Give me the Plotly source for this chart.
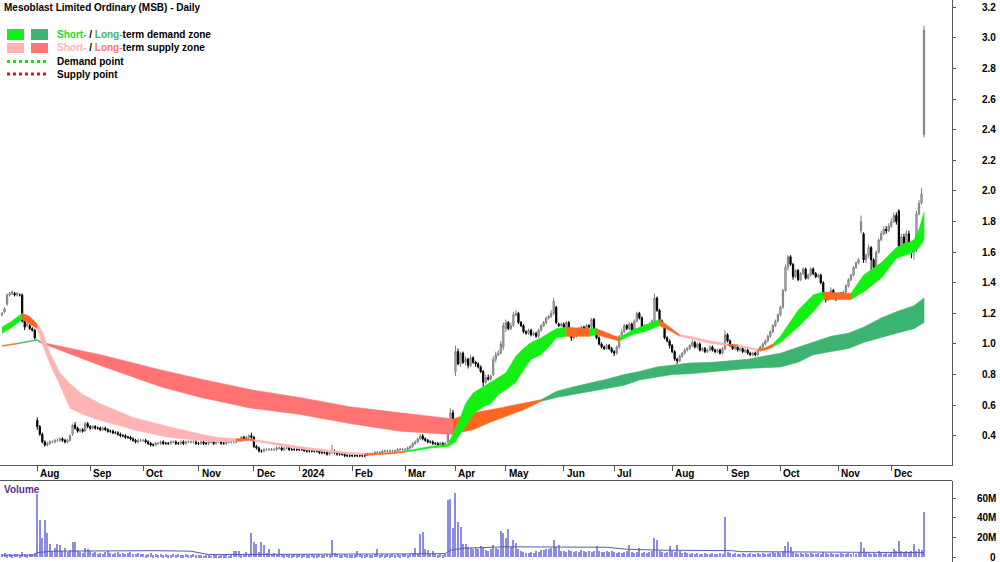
import plotly.graph_objects as go

# ---------------- data ----------------
MONTH_NAMES = ["Jul", "Aug", "Sep", "Oct", "Nov", "Dec", "2024", "Feb", "Mar", "Apr",
               "May", "Jun", "Jul", "Aug", "Sep", "Oct", "Nov", "Dec"]
MONTH_DAYS = [14, 21, 21, 22, 22, 18, 21, 21, 20, 20, 23, 20, 23, 22, 21, 23, 21, 14]

OPEN = [
    1.19, 1.21, 1.26, 1.32, 1.33, 1.33, 1.32, 1.32, 1.32, 1.16, 1.12, 1.12, 1.10, 1.09,
    0.50, 0.46, 0.41, 0.36, 0.34, 0.35, 0.36, 0.36, 0.37, 0.37, 0.38, 0.37, 0.36, 0.37, 0.41, 0.47, 0.45, 0.43, 0.44, 0.43, 0.48,
    0.46, 0.45, 0.46, 0.45, 0.45, 0.44, 0.45, 0.44, 0.43, 0.43, 0.42, 0.42, 0.41, 0.40, 0.40, 0.39, 0.39, 0.38, 0.37, 0.36, 0.37,
    0.37, 0.37, 0.36, 0.35, 0.34, 0.34, 0.35, 0.35, 0.36, 0.35, 0.35, 0.35, 0.36, 0.36, 0.35, 0.35, 0.36, 0.35, 0.36, 0.36, 0.36, 0.36,
    0.35, 0.35, 0.36, 0.35, 0.35, 0.36, 0.36, 0.35, 0.36, 0.36, 0.35, 0.35, 0.36, 0.36, 0.36, 0.36, 0.37, 0.37, 0.39, 0.38, 0.39, 0.40,
    0.39, 0.33, 0.32, 0.30, 0.30, 0.31, 0.31, 0.31, 0.31, 0.31, 0.32, 0.32, 0.31, 0.32, 0.32, 0.31, 0.31, 0.31,
    0.31, 0.31, 0.31, 0.30, 0.30, 0.30, 0.30, 0.30, 0.30, 0.29, 0.29, 0.29, 0.28, 0.29, 0.30, 0.29, 0.28, 0.28, 0.28, 0.27, 0.27,
    0.27, 0.27, 0.27, 0.27, 0.27, 0.27, 0.27, 0.28, 0.28, 0.28, 0.29, 0.29, 0.29, 0.30, 0.30, 0.30, 0.30, 0.30, 0.30, 0.31, 0.31,
    0.31, 0.31, 0.32, 0.33, 0.35, 0.36, 0.38, 0.40, 0.38, 0.37, 0.36, 0.36, 0.35, 0.35, 0.34, 0.35, 0.34, 0.36, 0.48, 0.55,
    0.82, 0.95, 0.87, 0.94, 0.88, 0.90, 0.86, 0.91, 0.88, 0.87, 0.85, 0.82, 0.75, 0.78, 0.77, 0.80, 0.90, 0.93, 0.94, 0.98,
    1.10, 1.14, 1.10, 1.12, 1.19, 1.20, 1.14, 1.12, 1.08, 1.07, 1.09, 1.06, 1.07, 1.05, 1.09, 1.12, 1.14, 1.17, 1.18, 1.20, 1.24, 1.13, 1.12,
    1.13, 1.11, 1.14, 1.06, 1.04, 1.05, 1.08, 1.10, 1.11, 1.09, 1.12, 1.11, 1.16, 1.09, 1.04, 1.00, 0.98, 0.97, 0.99, 0.97,
    0.95, 0.94, 0.98, 1.05, 1.08, 1.12, 1.10, 1.13, 1.09, 1.15, 1.20, 1.17, 1.11, 1.12, 1.10, 1.13, 1.15, 1.30, 1.22, 1.15, 1.12, 1.04, 1.02,
    0.99, 0.95, 0.90, 0.89, 0.92, 0.94, 0.96, 0.97, 0.99, 1.01, 0.98, 1.00, 0.96, 0.97, 0.95, 0.96, 0.98, 0.96, 0.95, 0.96, 0.94, 0.97,
    1.06, 1.02, 0.99, 0.97, 0.98, 0.96, 0.97, 0.95, 0.96, 0.94, 0.93, 0.94, 0.93, 0.96, 0.98, 1.00, 1.02, 1.05, 1.08, 1.12, 1.15,
    1.19, 1.24, 1.35, 1.50, 1.57, 1.52, 1.44, 1.48, 1.42, 1.46, 1.49, 1.43, 1.45, 1.49, 1.46, 1.44, 1.45, 1.40, 1.32, 1.29, 1.33, 1.35, 1.31,
    1.30, 1.33, 1.31, 1.34, 1.38, 1.42, 1.45, 1.50, 1.53, 1.74, 1.72, 1.55, 1.58, 1.63, 1.55, 1.50, 1.60, 1.68, 1.72, 1.75, 1.74,
    1.77, 1.80, 1.84, 1.87, 1.64, 1.70, 1.66, 1.72, 1.64, 1.60, 1.62, 1.85, 1.92, 2.37,
]
CLOSE = [
    1.20, 1.23, 1.32, 1.33, 1.34, 1.32, 1.33, 1.32, 1.15, 1.11, 1.13, 1.10, 1.09, 1.04,
    0.46, 0.41, 0.36, 0.34, 0.35, 0.36, 0.36, 0.37, 0.37, 0.38, 0.37, 0.36, 0.37, 0.40, 0.47, 0.45, 0.43, 0.44, 0.43, 0.48, 0.46,
    0.45, 0.46, 0.45, 0.45, 0.44, 0.45, 0.44, 0.43, 0.43, 0.42, 0.42, 0.41, 0.40, 0.40, 0.39, 0.39, 0.38, 0.37, 0.36, 0.37, 0.37,
    0.37, 0.36, 0.35, 0.34, 0.34, 0.35, 0.35, 0.36, 0.35, 0.35, 0.35, 0.36, 0.36, 0.35, 0.35, 0.36, 0.35, 0.36, 0.36, 0.36, 0.36, 0.35,
    0.35, 0.36, 0.35, 0.35, 0.36, 0.36, 0.35, 0.36, 0.36, 0.35, 0.35, 0.36, 0.36, 0.36, 0.36, 0.37, 0.37, 0.39, 0.38, 0.39, 0.40, 0.39,
    0.33, 0.32, 0.30, 0.30, 0.31, 0.31, 0.31, 0.31, 0.31, 0.32, 0.32, 0.31, 0.32, 0.32, 0.31, 0.31, 0.31, 0.31,
    0.31, 0.31, 0.30, 0.30, 0.30, 0.30, 0.30, 0.30, 0.29, 0.29, 0.29, 0.28, 0.29, 0.30, 0.29, 0.28, 0.28, 0.28, 0.27, 0.27, 0.27,
    0.27, 0.27, 0.27, 0.27, 0.27, 0.27, 0.28, 0.28, 0.28, 0.29, 0.29, 0.29, 0.30, 0.30, 0.30, 0.30, 0.30, 0.30, 0.31, 0.31, 0.31,
    0.31, 0.32, 0.33, 0.35, 0.36, 0.38, 0.40, 0.38, 0.37, 0.36, 0.36, 0.35, 0.35, 0.34, 0.35, 0.34, 0.35, 0.47, 0.55, 0.50,
    0.95, 0.87, 0.94, 0.88, 0.90, 0.86, 0.91, 0.88, 0.87, 0.85, 0.82, 0.75, 0.78, 0.77, 0.79, 0.90, 0.93, 0.94, 1.00, 1.12,
    1.14, 1.10, 1.12, 1.19, 1.20, 1.14, 1.12, 1.08, 1.07, 1.09, 1.06, 1.07, 1.05, 1.09, 1.12, 1.14, 1.17, 1.18, 1.20, 1.28, 1.14, 1.12, 1.13,
    1.11, 1.14, 1.06, 1.04, 1.05, 1.08, 1.10, 1.11, 1.09, 1.12, 1.11, 1.16, 1.09, 1.04, 1.00, 0.98, 0.97, 0.99, 0.97, 0.95,
    0.94, 0.98, 1.05, 1.08, 1.12, 1.10, 1.13, 1.09, 1.15, 1.20, 1.17, 1.11, 1.12, 1.10, 1.13, 1.15, 1.30, 1.22, 1.15, 1.12, 1.04, 1.02, 0.99,
    0.95, 0.90, 0.89, 0.92, 0.94, 0.96, 0.97, 0.99, 1.01, 0.98, 1.00, 0.96, 0.97, 0.95, 0.96, 0.98, 0.96, 0.95, 0.96, 0.94, 0.97, 1.06,
    1.02, 0.99, 0.97, 0.98, 0.96, 0.97, 0.95, 0.96, 0.94, 0.93, 0.94, 0.93, 0.96, 0.98, 1.00, 1.02, 1.05, 1.08, 1.12, 1.15, 1.19,
    1.24, 1.35, 1.50, 1.57, 1.52, 1.44, 1.48, 1.42, 1.46, 1.49, 1.43, 1.45, 1.49, 1.46, 1.44, 1.45, 1.40, 1.32, 1.29, 1.33, 1.35, 1.31, 1.30,
    1.33, 1.31, 1.34, 1.38, 1.42, 1.45, 1.50, 1.53, 1.55, 1.80, 1.55, 1.58, 1.63, 1.55, 1.50, 1.60, 1.68, 1.72, 1.75, 1.74, 1.77,
    1.80, 1.84, 1.80, 1.64, 1.70, 1.66, 1.72, 1.64, 1.60, 1.62, 1.85, 1.92, 1.98, 3.05,
]
HIGH = [
    1.21, 1.24, 1.33, 1.34, 1.35, 1.34, 1.34, 1.33, 1.33, 1.17, 1.14, 1.13, 1.11, 1.10,
    0.52, 0.47, 0.42, 0.37, 0.36, 0.37, 0.37, 0.38, 0.38, 0.39, 0.39, 0.38, 0.38, 0.41, 0.48, 0.49, 0.46, 0.45, 0.45, 0.49, 0.49,
    0.47, 0.47, 0.47, 0.46, 0.46, 0.46, 0.46, 0.45, 0.44, 0.44, 0.43, 0.43, 0.42, 0.41, 0.41, 0.40, 0.40, 0.39, 0.38, 0.38, 0.38,
    0.38, 0.38, 0.37, 0.36, 0.35, 0.36, 0.36, 0.37, 0.37, 0.36, 0.36, 0.37, 0.37, 0.37, 0.36, 0.37, 0.37, 0.37, 0.37, 0.37, 0.37, 0.37,
    0.36, 0.37, 0.37, 0.36, 0.37, 0.37, 0.37, 0.37, 0.37, 0.37, 0.36, 0.37, 0.37, 0.37, 0.37, 0.38, 0.38, 0.40, 0.40, 0.40, 0.41, 0.42,
    0.40, 0.34, 0.33, 0.31, 0.32, 0.32, 0.32, 0.32, 0.32, 0.33, 0.33, 0.33, 0.33, 0.33, 0.33, 0.32, 0.32, 0.32,
    0.32, 0.32, 0.32, 0.31, 0.31, 0.31, 0.31, 0.31, 0.31, 0.30, 0.30, 0.30, 0.29, 0.34, 0.31, 0.30, 0.29, 0.29, 0.29, 0.28, 0.28,
    0.28, 0.28, 0.28, 0.28, 0.28, 0.28, 0.29, 0.29, 0.29, 0.30, 0.30, 0.30, 0.31, 0.31, 0.31, 0.31, 0.31, 0.31, 0.32, 0.32, 0.32,
    0.32, 0.33, 0.34, 0.36, 0.37, 0.39, 0.41, 0.41, 0.39, 0.38, 0.37, 0.37, 0.36, 0.36, 0.36, 0.36, 0.36, 0.50, 0.58, 0.57,
    0.99, 0.97, 0.95, 0.95, 0.92, 0.91, 0.93, 0.92, 0.89, 0.88, 0.86, 0.83, 0.80, 0.80, 0.80, 0.92, 0.95, 0.96, 1.02, 1.14,
    1.16, 1.15, 1.14, 1.21, 1.22, 1.21, 1.15, 1.13, 1.09, 1.10, 1.10, 1.08, 1.08, 1.10, 1.13, 1.15, 1.18, 1.19, 1.22, 1.30, 1.25, 1.14, 1.14,
    1.14, 1.15, 1.15, 1.07, 1.06, 1.09, 1.11, 1.12, 1.12, 1.13, 1.13, 1.17, 1.17, 1.10, 1.05, 1.01, 0.99, 1.00, 1.00, 0.98,
    0.96, 0.99, 1.06, 1.10, 1.13, 1.13, 1.14, 1.14, 1.16, 1.21, 1.21, 1.18, 1.13, 1.13, 1.14, 1.16, 1.33, 1.31, 1.23, 1.16, 1.13, 1.05, 1.03,
    1.00, 0.96, 0.91, 0.93, 0.95, 0.97, 0.98, 1.00, 1.03, 1.02, 1.01, 1.01, 0.98, 0.98, 0.97, 0.99, 0.99, 0.97, 0.97, 0.97, 0.98, 1.09,
    1.07, 1.03, 1.00, 0.99, 0.99, 0.98, 0.98, 0.97, 0.97, 0.95, 0.95, 0.95, 0.97, 0.99, 1.01, 1.03, 1.06, 1.09, 1.13, 1.16, 1.20,
    1.25, 1.36, 1.52, 1.58, 1.58, 1.53, 1.49, 1.49, 1.47, 1.50, 1.50, 1.46, 1.50, 1.50, 1.47, 1.46, 1.46, 1.41, 1.33, 1.34, 1.37, 1.36, 1.32,
    1.34, 1.34, 1.35, 1.39, 1.43, 1.46, 1.51, 1.54, 1.56, 1.84, 1.73, 1.59, 1.65, 1.64, 1.56, 1.61, 1.69, 1.74, 1.77, 1.77, 1.79,
    1.82, 1.86, 1.86, 1.88, 1.72, 1.72, 1.74, 1.74, 1.66, 1.64, 1.87, 1.94, 2.02, 3.08,
]
LOW = [
    1.18, 1.20, 1.25, 1.31, 1.32, 1.31, 1.31, 1.31, 1.14, 1.09, 1.11, 1.09, 1.08, 1.03,
    0.44, 0.40, 0.35, 0.33, 0.33, 0.34, 0.35, 0.35, 0.36, 0.36, 0.36, 0.35, 0.35, 0.36, 0.40, 0.44, 0.42, 0.42, 0.42, 0.43, 0.45,
    0.44, 0.44, 0.44, 0.44, 0.43, 0.43, 0.43, 0.42, 0.42, 0.41, 0.41, 0.40, 0.39, 0.39, 0.38, 0.38, 0.37, 0.36, 0.35, 0.35, 0.36,
    0.36, 0.35, 0.34, 0.33, 0.33, 0.33, 0.34, 0.34, 0.34, 0.34, 0.34, 0.34, 0.35, 0.34, 0.34, 0.34, 0.34, 0.34, 0.35, 0.35, 0.35, 0.34,
    0.34, 0.34, 0.34, 0.34, 0.34, 0.35, 0.34, 0.34, 0.35, 0.34, 0.34, 0.34, 0.35, 0.35, 0.35, 0.35, 0.36, 0.36, 0.37, 0.37, 0.38, 0.38,
    0.32, 0.31, 0.29, 0.29, 0.29, 0.30, 0.30, 0.30, 0.30, 0.30, 0.31, 0.30, 0.30, 0.31, 0.30, 0.30, 0.30, 0.30,
    0.30, 0.30, 0.30, 0.29, 0.29, 0.29, 0.29, 0.29, 0.28, 0.28, 0.28, 0.27, 0.27, 0.28, 0.28, 0.27, 0.27, 0.27, 0.26, 0.26, 0.26,
    0.26, 0.26, 0.26, 0.26, 0.26, 0.26, 0.27, 0.27, 0.27, 0.28, 0.28, 0.28, 0.29, 0.29, 0.29, 0.29, 0.29, 0.29, 0.30, 0.30, 0.30,
    0.30, 0.30, 0.31, 0.32, 0.34, 0.35, 0.37, 0.37, 0.36, 0.35, 0.35, 0.34, 0.34, 0.33, 0.33, 0.33, 0.33, 0.35, 0.46, 0.49,
    0.79, 0.86, 0.85, 0.87, 0.86, 0.84, 0.85, 0.87, 0.85, 0.84, 0.81, 0.72, 0.74, 0.76, 0.76, 0.79, 0.88, 0.92, 0.93, 0.96,
    1.08, 1.09, 1.09, 1.11, 1.18, 1.13, 1.11, 1.07, 1.06, 1.06, 1.05, 1.05, 1.04, 1.04, 1.08, 1.11, 1.13, 1.16, 1.17, 1.19, 1.13, 1.11, 1.11,
    1.10, 1.10, 1.05, 1.02, 1.03, 1.04, 1.07, 1.09, 1.08, 1.08, 1.10, 1.10, 1.08, 1.03, 0.99, 0.97, 0.96, 0.96, 0.96, 0.94,
    0.92, 0.93, 0.97, 1.04, 1.07, 1.09, 1.09, 1.08, 1.08, 1.14, 1.16, 1.10, 1.10, 1.09, 1.09, 1.12, 1.14, 1.21, 1.14, 1.11, 1.03, 1.01, 0.97,
    0.94, 0.89, 0.87, 0.88, 0.91, 0.93, 0.95, 0.96, 0.98, 0.97, 0.97, 0.95, 0.95, 0.94, 0.94, 0.95, 0.95, 0.94, 0.94, 0.93, 0.93, 0.96,
    1.01, 0.98, 0.96, 0.96, 0.95, 0.95, 0.94, 0.94, 0.93, 0.92, 0.92, 0.92, 0.92, 0.95, 0.97, 0.99, 1.01, 1.04, 1.07, 1.11, 1.14,
    1.18, 1.23, 1.34, 1.48, 1.51, 1.42, 1.43, 1.41, 1.41, 1.45, 1.42, 1.42, 1.44, 1.45, 1.43, 1.43, 1.39, 1.31, 1.27, 1.28, 1.32, 1.30, 1.28,
    1.29, 1.30, 1.30, 1.33, 1.37, 1.41, 1.44, 1.49, 1.52, 1.72, 1.53, 1.53, 1.56, 1.46, 1.44, 1.49, 1.59, 1.67, 1.71, 1.72, 1.73,
    1.76, 1.79, 1.78, 1.62, 1.62, 1.64, 1.65, 1.62, 1.56, 1.55, 1.60, 1.84, 1.91, 2.35,
]
VOLUME_M = [
    3, 4, 2, 3, 2, 3, 3, 2, 5, 3, 2, 3, 3, 4,
    65, 38, 19, 38, 25, 13, 6, 9, 13, 12, 6, 9, 5, 7, 15, 15, 6, 5, 4, 9, 8,
    6, 4, 5, 3, 4, 3, 5, 6, 4, 3, 4, 5, 3, 4, 3, 4, 5, 3, 3, 4, 3,
    3, 2, 3, 4, 2, 3, 2, 3, 2, 3, 2, 2, 3, 2, 3, 2, 2, 3, 2, 2, 3, 2,
    2, 2, 1, 2, 2, 1, 2, 2, 1, 2, 2, 2, 1, 2, 6, 6, 6, 2, 3, 5, 3, 25,
    15, 13, 5, 15, 12, 4, 8, 3, 4, 3, 8, 3, 2, 3, 2, 2, 3, 2,
    3, 2, 3, 2, 2, 3, 2, 2, 3, 2, 2, 3, 2, 17, 4, 3, 2, 2, 3, 2, 2,
    2, 2, 6, 3, 2, 2, 3, 2, 2, 3, 8, 2, 3, 2, 3, 2, 3, 2, 3, 2, 3,
    3, 2, 3, 4, 9, 3, 24, 26, 8, 7, 3, 6, 3, 2, 3, 2, 3, 58, 59, 30,
    66, 36, 31, 13, 13, 10, 9, 8, 9, 8, 11, 9, 7, 6, 8, 12, 9, 8, 27, 25,
    20, 29, 10, 17, 14, 8, 6, 5, 4, 4, 5, 4, 6, 5, 7, 7, 8, 8, 9, 17, 10, 12, 6,
    6, 5, 7, 6, 5, 6, 5, 7, 6, 5, 6, 5, 6, 11, 6, 5, 5, 6, 5, 6,
    5, 4, 5, 4, 5, 6, 12, 5, 4, 5, 9, 4, 5, 4, 5, 6, 20, 17, 6, 5, 4, 5, 11,
    6, 5, 12, 6, 4, 5, 4, 3, 4, 3, 4, 3, 3, 4, 3, 3, 4, 3, 3, 4, 3, 41,
    5, 4, 3, 4, 3, 3, 4, 3, 3, 4, 3, 3, 4, 3, 4, 3, 3, 4, 5, 4, 5,
    4, 6, 11, 15, 10, 5, 4, 3, 4, 3, 4, 3, 4, 3, 3, 4, 3, 5, 4, 3, 4, 3, 3,
    3, 4, 3, 3, 4, 3, 4, 3, 4, 15, 9, 5, 4, 3, 4, 3, 6, 4, 3, 4, 3,
    5, 8, 6, 16, 6, 5, 6, 5, 6, 13, 6, 8, 7, 46,
]
# volume moving-average line, read at sample days
VMA_DAY = [0, 13, 14, 20, 60, 75, 82, 100, 104, 140, 160, 176, 178, 183, 200, 240, 248, 262, 290, 293, 320, 340, 366]
VMA_M = [2.0, 2.0, 4.5, 6.0, 6.5, 6.0, 2.5, 2.5, 3.0, 3.0, 3.2, 3.5, 7.0, 9.0, 10.5, 10.0, 8.0, 7.0, 6.5, 5.5, 5.0, 4.5, 4.5]

# short-term zone: day, upper, lower, state (G demand, P supply, O neutral)
ST_DAY = [0, 4, 8, 11, 14, 16, 19, 23, 27, 32, 39, 46, 52, 59, 66, 79, 85, 93, 98, 100, 118, 138, 144, 146, 155,
          160, 170, 177, 180, 181, 184, 187, 191, 194, 197, 200, 204, 207, 210, 214, 217, 220, 224, 233, 236, 245,
          250, 255, 261, 266, 269, 273, 281, 288, 292, 300, 303, 306, 309, 316, 322, 326, 337, 342, 349, 355, 362, 364, 366]
ST_HI = [1.11, 1.15, 1.20, 1.18, 1.13, 1.08, 0.94, 0.81, 0.74, 0.67, 0.61, 0.56, 0.52, 0.49, 0.46, 0.41, 0.39, 0.38, 0.38,
         0.375, 0.33, 0.29, 0.285, 0.282, 0.29, 0.30, 0.33, 0.345, 0.44, 0.48, 0.61, 0.68, 0.72, 0.75, 0.78, 0.81, 0.92,
         0.97, 1.01, 1.04, 1.07, 1.10, 1.11, 1.10, 1.10, 1.04, 1.09, 1.12, 1.16, 1.10, 1.06, 1.05, 1.02, 1.00, 0.995,
         0.965, 0.975, 1.00, 1.05, 1.22, 1.32, 1.34, 1.33, 1.45, 1.53, 1.63, 1.68, 1.75, 1.86]
ST_LO = [1.07, 1.11, 1.16, 1.13, 1.10, 1.00, 0.87, 0.73, 0.58, 0.54, 0.50, 0.47, 0.44, 0.415, 0.39, 0.37, 0.36, 0.365, 0.37,
         0.365, 0.315, 0.28, 0.275, 0.274, 0.283, 0.293, 0.32, 0.33, 0.36, 0.39, 0.46, 0.54, 0.59, 0.61, 0.67, 0.70, 0.75,
         0.83, 0.90, 0.93, 0.98, 1.04, 1.05, 1.05, 1.06, 1.02, 1.06, 1.08, 1.12, 1.08, 1.05, 1.035, 1.005, 0.99, 0.985,
         0.955, 0.96, 0.98, 1.01, 1.11, 1.21, 1.29, 1.29, 1.34, 1.43, 1.56, 1.60, 1.63, 1.68]
ST_STATE = ["G", "G", "O", "O", "P", "P", "P", "P", "P", "P", "P", "P", "P", "P", "P", "P", "P", "O", "O", "P", "P", "P", "O", "O", "O",
            "G", "G", "G", "G", "G", "G", "G", "G", "G", "G", "G", "G", "G", "G", "G", "G", "G", "O", "G", "O", "G",
            "G", "G", "O", "O", "P", "P", "P", "O", "P", "O", "O", "G", "G", "G", "G", "O", "G", "G", "G", "G", "G", "G", "G"]

# long-term zone: day, upper, lower, state (D demand, S supply, O neutral)
LT_DAY = [0, 6, 14, 15, 16, 39, 63, 79, 99, 118, 138, 158, 177, 179, 181, 187, 194, 207, 214, 220, 227, 234, 240,
          247, 253, 260, 266, 273, 282, 296, 309, 316, 322, 329, 336, 342, 349, 355, 362, 366]
LT_HI = [0.99, 1.005, 1.03, 1.02, 1.01, 0.93, 0.83, 0.77, 0.70, 0.65, 0.59, 0.55, 0.51, 0.51, 0.52, 0.55, 0.57, 0.61,
         0.635, 0.69, 0.72, 0.745, 0.77, 0.80, 0.82, 0.85, 0.86, 0.875, 0.88, 0.90, 0.94, 0.98, 1.01, 1.05, 1.07, 1.11,
         1.17, 1.21, 1.25, 1.30]
LT_LO = [0.985, 1.0, 1.025, 1.01, 1.00, 0.86, 0.72, 0.65, 0.58, 0.54, 0.48, 0.43, 0.41, 0.41, 0.42, 0.44, 0.49, 0.57,
         0.625, 0.65, 0.67, 0.69, 0.71, 0.73, 0.765, 0.785, 0.80, 0.805, 0.82, 0.84, 0.85, 0.88, 0.93, 0.95, 0.97, 1.01,
         1.04, 1.07, 1.10, 1.14]
LT_STATE = ["O", "G", "G", "S", "S", "S", "S", "S", "S", "S", "S", "S", "S", "O", "O", "O", "O", "O",
            "D", "D", "D", "D", "D", "D", "D", "D", "D", "D", "D", "D", "D", "D", "D", "D", "D", "D", "D", "D", "D", "D"]

PRICE_TICKS = [0.4, 0.6, 0.8, 1.0, 1.2, 1.4, 1.6, 1.8, 2.0, 2.2, 2.4, 2.6, 2.8, 3.0, 3.2]
VOL_TICKS = [0, 20, 40, 60]
VOL_TICK_TEXT = ["0", "20M", "40M", "60M"]

# ---------------- styling ----------------
ST_COLORS = {"G": "#14f014", "P": "#ffb3b3", "O": "#ff6622"}
LT_COLORS = {"G": "#3cb371", "D": "#3cb371", "S": "#ff7373", "O": "#ff6622"}
FONT = "Liberation Sans, Arial, sans-serif"
W, H = 1000, 562
PLOT_W = 952

n = len(CLOSE)
assert len(OPEN) == n and len(HIGH) == n and len(LOW) == n and len(VOLUME_M) == n, (len(OPEN), len(HIGH), len(LOW), n, len(VOLUME_M))
assert sum(MONTH_DAYS) == n
DAYS = list(range(n))

month_start = []
acc = 0
for d in MONTH_DAYS:
    month_start.append(acc)
    acc += d


def px(x):
    return x / PLOT_W


def py(y):
    return 1 - y / H


fig = go.Figure()


def add_band(days, hi, lo, state, colors):
    m = len(days)
    i = 0
    while i < m - 1:
        j = i
        while j + 1 < m - 1 and state[j + 1] == state[i]:
            j += 1
        end = j + 1
        xs = days[i:end + 1] + days[i:end + 1][::-1]
        ys = hi[i:end + 1] + lo[i:end + 1][::-1]
        c = colors[state[i]]
        fig.add_trace(go.Scatter(x=xs, y=ys, mode="lines", fill="toself", fillcolor=c,
                                 line=dict(color=c, width=0.6), hoverinfo="skip", showlegend=False,
                                 xaxis="x", yaxis="y"))
        i = end


add_band(LT_DAY, LT_HI, LT_LO, LT_STATE, LT_COLORS)
add_band(ST_DAY, ST_HI, ST_LO, ST_STATE, ST_COLORS)

fig.add_trace(go.Candlestick(
    x=DAYS, open=OPEN, high=HIGH, low=LOW, close=CLOSE,
    increasing=dict(line=dict(color="#7f7f7f", width=1), fillcolor="#c6c6c6"),
    decreasing=dict(line=dict(color="#000000", width=1), fillcolor="#000000"),
    whiskerwidth=0, showlegend=False, xaxis="x", yaxis="y"))

fig.add_trace(go.Bar(x=DAYS, y=VOLUME_M, width=0.4, marker=dict(color="#8c8ce0", line=dict(width=0)),
                     showlegend=False, xaxis="x2", yaxis="y2"))
fig.add_trace(go.Scatter(x=VMA_DAY, y=VMA_M, mode="lines", line=dict(color="#5a5ab4", width=1),
                         showlegend=False, xaxis="x2", yaxis="y2"))

XR = [-0.8, 377.1]
tick_days = month_start[1:]

ann = []
# title
ann.append(dict(text="<b>Mesoblast Limited Ordinary (MSB) - Daily</b>", x=px(2), y=py(8), xref="paper", yref="paper",
                xanchor="left", yanchor="middle", showarrow=False, font=dict(family=FONT, size=10, color="#000")))
# legend texts
leg_rows = [
    (35, "<b><span style='color:#14e014'>Short-</span> / <span style='color:#3cb371'>Long-</span>term demand zone</b>"),
    (48, "<b><span style='color:#ffb3b3'>Short-</span> / <span style='color:#ff7373'>Long-</span>term supply zone</b>"),
    (61, "<b>Demand point</b>"),
    (74, "<b>Supply point</b>"),
]
for yy, t in leg_rows:
    ann.append(dict(text=t, x=px(55), y=py(yy), xref="paper", yref="paper", xanchor="left", yanchor="middle",
                    showarrow=False, font=dict(family=FONT, size=10, color="#000")))
# month labels
for d, name in zip(month_start[1:], MONTH_NAMES[1:]):
    ann.append(dict(text="<b>%s</b>" % name, x=d, y=py(474), xref="x", yref="paper", xanchor="left",
                    yanchor="middle", xshift=1, showarrow=False, font=dict(family=FONT, size=10, color="#000")))
# price tick labels (right aligned)
for v in PRICE_TICKS:
    ann.append(dict(text="<b>%.1f</b>" % v, x=px(998), y=v, xref="paper", yref="y", xanchor="right",
                    yanchor="middle", showarrow=False, font=dict(family=FONT, size=10, color="#000")))
for v, t in zip(VOL_TICKS, VOL_TICK_TEXT):
    ann.append(dict(text="<b>%s</b>" % t, x=px(998), y=v, xref="paper", yref="y2", xanchor="right",
                    yanchor="middle", showarrow=False, font=dict(family=FONT, size=10, color="#000")))
ann.append(dict(text="<b>Volume</b>", x=px(2), y=py(489), xref="paper", yref="paper", xanchor="left",
                yanchor="middle", showarrow=False, font=dict(family=FONT, size=10, color="#5b2a8f")))

shapes = []
# legend swatches
for (x0, x1, y0, y1, c) in [(7, 24, 29, 40, "#14f014"), (31, 48, 29, 40, "#3cb371"),
                            (7, 24, 43, 53, "#ffb3b3"), (31, 48, 43, 53, "#ff7373")]:
    shapes.append(dict(type="rect", xref="paper", yref="paper", x0=px(x0), x1=px(x1), y0=py(y1), y1=py(y0),
                       fillcolor=c, line=dict(width=0)))
shapes.append(dict(type="line", xref="paper", yref="paper", x0=px(7), x1=px(46), y0=py(61.5), y1=py(61.5),
                   line=dict(color="#14e014", width=3, dash="dot")))
shapes.append(dict(type="line", xref="paper", yref="paper", x0=px(7), x1=px(46), y0=py(74), y1=py(74),
                   line=dict(color="#ee1111", width=3, dash="dot")))
# separator above volume panel
shapes.append(dict(type="line", xref="paper", yref="paper", x0=0, x1=1, y0=py(480.5), y1=py(480.5),
                   line=dict(color="#555", width=1)))

fig.update_layout(
    width=W, height=H, margin=dict(l=0, r=W - PLOT_W, t=0, b=0),
    paper_bgcolor="white", plot_bgcolor="white", showlegend=False,
    font=dict(family=FONT, size=10, color="#000"),
    xaxis=dict(domain=[0, 1], range=XR, anchor="y", showline=True, linecolor="#555", linewidth=1,
               ticks="outside", ticklen=5, tickcolor="#555", tickvals=tick_days, showticklabels=False,
               showgrid=False, zeroline=False, rangeslider=dict(visible=False)),
    yaxis=dict(domain=[py(465), 1], range=[0.209, 3.248], side="right", anchor="x", showline=True,
               linecolor="#555", linewidth=1, ticks="outside", ticklen=3, tickcolor="#555",
               tickvals=PRICE_TICKS, showticklabels=False, showgrid=False, zeroline=False),
    xaxis2=dict(domain=[0, 1], range=XR, anchor="y2", matches="x", showline=False, showticklabels=False,
                ticks="", showgrid=False, zeroline=False),
    yaxis2=dict(domain=[0, py(481)], range=[-5.1, 77.9], side="right", anchor="x2", showline=True,
                linecolor="#555", linewidth=1, ticks="outside", ticklen=3, tickcolor="#555",
                tickvals=VOL_TICKS, showticklabels=False, showgrid=False, zeroline=False),
    annotations=ann, shapes=shapes, bargap=0,
)

fig.write_html("out.html")
